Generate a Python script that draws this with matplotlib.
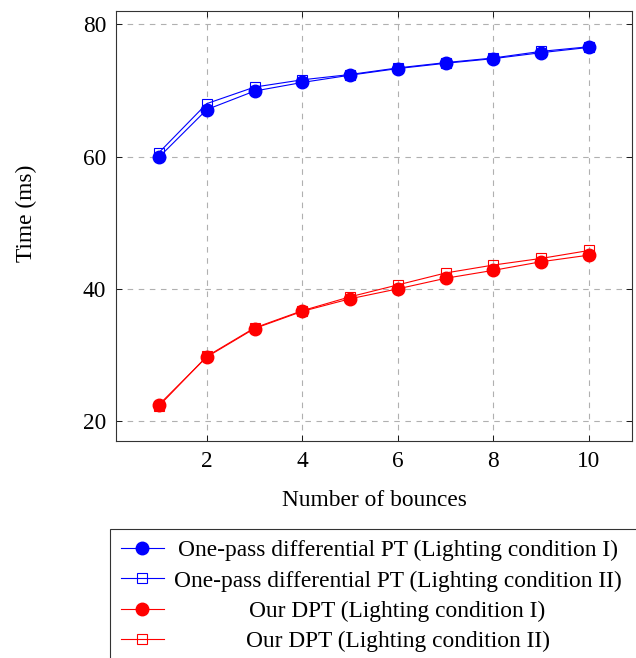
import numpy as np
import matplotlib.pyplot as plt
from matplotlib.lines import Line2D

plt.rcParams['font.family'] = ['Liberation Serif', 'DejaVu Serif']

# data
bounces = [1, 2, 3, 4, 5, 6, 7, 8, 9, 10]
onepass_I = [59.9, 67.1, 69.9, 71.2, 72.3, 73.3, 74.1, 74.8, 75.7, 76.5]
onepass_II = [60.6, 68.0, 70.5, 71.6, 72.4, 73.4, 74.2, 74.9, 75.9, 76.6]
dpt_I = [22.5, 29.7, 34.0, 36.6, 38.5, 40.0, 41.6, 42.8, 44.1, 45.1]
dpt_II = [22.3, 29.8, 34.1, 36.7, 38.8, 40.6, 42.4, 43.6, 44.6, 45.8]

labels = ["One-pass differential PT (Lighting condition I)",
          "One-pass differential PT (Lighting condition II)",
          "Our DPT (Lighting condition I)",
          "Our DPT (Lighting condition II)"]

fs = 16.8
fig = plt.figure(figsize=(6.36, 6.58), dpi=100)
ax = fig.add_axes([116/636, 1-441/658, (632-116)/636, (441-11)/658])

lw = 0.8
ax.plot(bounces, onepass_I, color='blue', lw=lw, marker='o', ms=9, mfc='blue', mec='blue')
ax.plot(bounces, onepass_II, color='blue', lw=lw, marker='s', ms=7.5, mfc='none', mec='blue', mew=0.8)
ax.plot(bounces, dpt_I, color='red', lw=lw, marker='o', ms=9, mfc='red', mec='red')
ax.plot(bounces, dpt_II, color='red', lw=lw, marker='s', ms=7.5, mfc='none', mec='red', mew=0.8)

ax.set_xlim(0.1, 10.9)
ax.set_ylim(17.0, 82.0)
ax.set_xticks([2, 4, 6, 8, 10])
ax.set_yticks([20, 40, 60, 80])
ax.grid(True, ls=(0, (5, 5)), color='#b0b0b0', lw=0.8)
ax.tick_params(direction='in', top=True, right=True, length=4, width=0.6, labelsize=fs, pad=7)
for s in ax.spines.values():
    s.set_linewidth(0.8)
    s.set_color('#333333')

ax.set_xlabel("Number of bounces", fontsize=fs, labelpad=13)
ax.set_ylabel("Time (ms)", fontsize=fs)
ax.yaxis.set_label_coords(-0.154, 0.53)

handles = [Line2D([], [], color='blue', lw=lw, marker='o', ms=9),
           Line2D([], [], color='blue', lw=lw, marker='s', ms=7.5, mfc='none', mew=0.8),
           Line2D([], [], color='red', lw=lw, marker='o', ms=9),
           Line2D([], [], color='red', lw=lw, marker='s', ms=7.5, mfc='none', mew=0.8)]
# legend box runs past the right/bottom edge as in the reference
leg = fig.legend(handles, labels, loc='upper left', mode='expand',
                 bbox_to_anchor=(110/636, 1-529/658, 545/636, 0),
                 borderaxespad=0, fontsize=fs, frameon=True, fancybox=False,
                 edgecolor='black', handlelength=1.85, handletextpad=0.42,
                 labelspacing=0.39, borderpad=0.46)
leg.get_frame().set_linewidth(0.8)

# center legend entries like the reference
fig.canvas.draw()
r = fig.canvas.get_renderer()
widths = [t.get_window_extent(r).width for t in leg.get_texts()]
mw = max(widths)
for t, w in zip(leg.get_texts(), widths):
    t.set_position(((mw - w) / 2, 0))

fig.savefig("out.png", dpi=100)
